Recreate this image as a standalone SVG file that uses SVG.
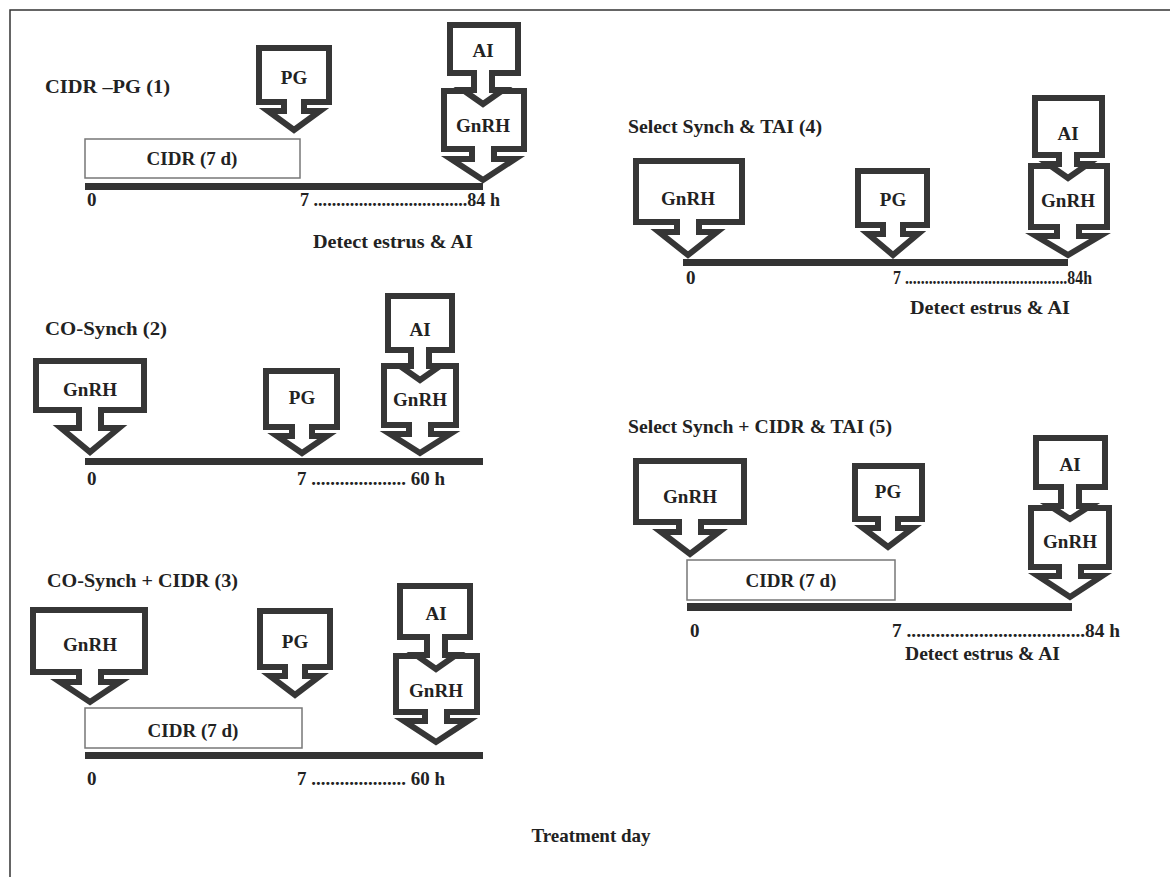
<svg xmlns="http://www.w3.org/2000/svg" width="1170" height="877" viewBox="0 0 1170 877">
<style>
.t{font-family:"Liberation Serif","Times New Roman",serif;font-weight:bold;font-size:19px;fill:#222}
.c{text-anchor:middle}
.co{fill:#fff;stroke:#363636;stroke-width:6;stroke-linejoin:miter;stroke-miterlimit:10}
.bar{fill:#333}
.cidr{fill:#fff;stroke:#777;stroke-width:1.5}
</style>
<rect width="1170" height="877" fill="#fff"/>
<path d="M10,877 V10 H1170" fill="none" stroke="#333" stroke-width="1.5"/>

<g id="connectors">
<rect class="bar" x="85" y="183" width="398" height="7"/>
<rect class="bar" x="85" y="458" width="398" height="7"/>
<rect class="bar" x="85" y="752" width="398" height="7"/>
<rect class="bar" x="683" y="259" width="385" height="7"/>
<rect class="bar" x="687" y="603" width="385" height="8"/>
</g>

<g id="p1">
<text class="t" x="45" y="93" textLength="125" lengthAdjust="spacingAndGlyphs">CIDR –PG (1)</text>
<g id="p1-cidr"><rect class="cidr" x="85" y="139" width="215" height="39"/><text class="t c" x="192" y="165">CIDR (7 d)</text></g>
<g id="p1-pg"><path class="co" d="M259,48 H329 V102 H304 V111 H320 L294,130 L268,111 H284 V102 H259 Z"/><text class="t c" x="294" y="84">PG</text></g>
<g id="p1-gnrh"><path class="co" d="M444,91 H524 V149 H494 V159 H515 L483,180 L451,159 H472 V149 H444 Z"/><text class="t c" x="483" y="132">GnRH</text></g>
<g id="p1-ai"><path class="co" d="M450,25 H518 V73 H492 V90 H503 L483,104 L463,90 H474 V73 H450 Z"/><text class="t c" x="483" y="57">AI</text></g>
<text class="t" x="87" y="206">0</text>
<text class="t" x="300" y="206" textLength="200" lengthAdjust="spacingAndGlyphs">7 ..................................84 h</text>
<text class="t" x="313" y="248" textLength="160" lengthAdjust="spacingAndGlyphs">Detect estrus &amp; AI</text>
</g>

<g id="p2">
<text class="t" x="45" y="335" textLength="122" lengthAdjust="spacingAndGlyphs">CO-Synch  (2)</text>
<g id="p2-gnrh0"><path class="co" d="M36,361 H144 V410 H101 V428 H119 L90,452 L61,428 H79 V410 H36 Z"/><text class="t c" x="90" y="396">GnRH</text></g>
<g id="p2-pg"><path class="co" d="M266,371 H337 V427 H312 V436 H327 L302,453 L277,436 H292 V427 H266 Z"/><text class="t c" x="302" y="404">PG</text></g>
<g id="p2-gnrh"><path class="co" d="M384,366 H456 V425 H431 V434 H450 L420,453 L390,434 H409 V425 H384 Z"/><text class="t c" x="420" y="406">GnRH</text></g>
<g id="p2-ai"><path class="co" d="M388,296 H452 V350 H429 V366 H440 L420,380 L400,366 H411 V350 H388 Z"/><text class="t c" x="420" y="336">AI</text></g>
<text class="t" x="87" y="485">0</text>
<text class="t" x="297" y="485" textLength="148" lengthAdjust="spacingAndGlyphs">7 .................... 60 h</text>
</g>

<g id="p3">
<text class="t" x="47" y="587" textLength="191" lengthAdjust="spacingAndGlyphs">CO-Synch  + CIDR (3)</text>
<g id="p3-gnrh0"><path class="co" d="M33,610 H145 V672 H101 V682 H120 L90,702 L60,682 H79 V672 H33 Z"/><text class="t c" x="90" y="651">GnRH</text></g>
<g id="p3-pg"><path class="co" d="M260,611 H330 V667 H305 V676 H320 L295,695 L270,676 H285 V667 H260 Z"/><text class="t c" x="295" y="648">PG</text></g>
<g id="p3-cidr"><rect class="cidr" x="85" y="708" width="217" height="40"/><text class="t c" x="193" y="737">CIDR (7 d)</text></g>
<g id="p3-gnrh"><path class="co" d="M396,656 H477 V712 H447 V721 H468 L436,742 L404,721 H425 V712 H396 Z"/><text class="t c" x="436" y="697">GnRH</text></g>
<g id="p3-ai"><path class="co" d="M400,586 H470 V637 H445 V655 H456 L436,669 L416,655 H427 V637 H400 Z"/><text class="t c" x="436" y="620">AI</text></g>
<text class="t" x="87" y="785">0</text>
<text class="t" x="297" y="785" textLength="148" lengthAdjust="spacingAndGlyphs">7 .................... 60 h</text>
</g>

<g id="p4">
<text class="t" x="628" y="133" textLength="194" lengthAdjust="spacingAndGlyphs">Select Synch  &amp; TAI (4)</text>
<g id="p4-gnrh0"><path class="co" d="M636,161 H742 V222 H699 V232 H717 L688,255 L659,232 H677 V222 H636 Z"/><text class="t c" x="688" y="205">GnRH</text></g>
<g id="p4-pg"><path class="co" d="M858,171 H927 V225 H903 V234 H918 L893,255 L868,234 H883 V225 H858 Z"/><text class="t c" x="893" y="206">PG</text></g>
<g id="p4-gnrh"><path class="co" d="M1031,166 H1107 V227 H1079 V236 H1100 L1068,255 L1036,236 H1057 V227 H1031 Z"/><text class="t c" x="1068" y="207">GnRH</text></g>
<g id="p4-ai"><path class="co" d="M1035,98 H1102 V155 H1077 V164 H1088 L1068,178 L1048,164 H1059 V155 H1035 Z"/><text class="t c" x="1068" y="140">AI</text></g>
<text class="t" x="686" y="284">0</text>
<text class="t" x="893" y="284" textLength="199" lengthAdjust="spacingAndGlyphs">7 .........................................84h</text>
<text class="t" x="910" y="314" textLength="160" lengthAdjust="spacingAndGlyphs">Detect estrus &amp; AI</text>
</g>

<g id="p5">
<text class="t" x="628" y="433" textLength="264" lengthAdjust="spacingAndGlyphs">Select Synch + CIDR &amp; TAI (5)</text>
<g id="p5-gnrh0"><path class="co" d="M636,461 H744 V522 H701 V532 H719 L690,554 L661,532 H679 V522 H636 Z"/><text class="t c" x="690" y="503">GnRH</text></g>
<g id="p5-pg"><path class="co" d="M855,466 H922 V519 H898 V528 H913 L888,547 L863,528 H878 V519 H855 Z"/><text class="t c" x="888" y="498">PG</text></g>
<g id="p5-cidr"><rect class="cidr" x="687" y="560" width="208" height="40"/><text class="t c" x="791" y="587">CIDR (7 d)</text></g>
<g id="p5-gnrh"><path class="co" d="M1031,508 H1109 V567 H1081 V576 H1102 L1070,597 L1038,576 H1059 V567 H1031 Z"/><text class="t c" x="1070" y="548">GnRH</text></g>
<g id="p5-ai"><path class="co" d="M1036,438 H1105 V487 H1079 V506 H1090 L1070,519 L1050,506 H1061 V487 H1036 Z"/><text class="t c" x="1070" y="471">AI</text></g>
<text class="t" x="690" y="637">0</text>
<text class="t" x="892" y="637" textLength="228" lengthAdjust="spacingAndGlyphs">7 .....................................84 h</text>
<text class="t" x="905" y="660" textLength="155" lengthAdjust="spacingAndGlyphs">Detect estrus &amp; AI</text>
</g>

<text class="t c" x="591" y="842">Treatment day</text>
</svg>
